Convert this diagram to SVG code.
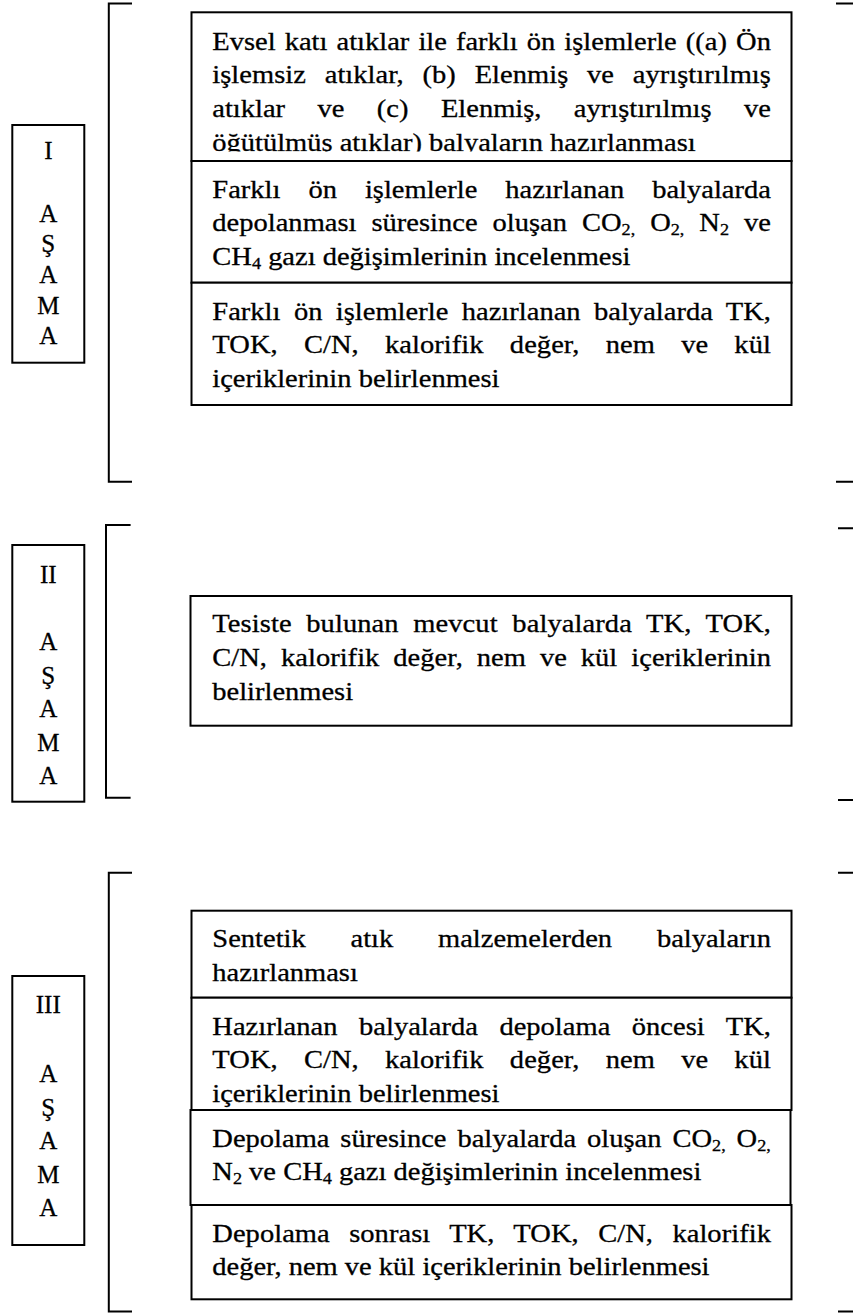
<svg xmlns="http://www.w3.org/2000/svg" width="853" height="1313" viewBox="0 0 853 1313">
<style>
.box{fill:#fff;stroke:#000;stroke-width:2}
.br{fill:none;stroke:#000;stroke-width:2}
.t{font-family:"Liberation Serif","Times New Roman",serif;font-size:25px;fill:#000;stroke:#000;stroke-width:0.3px}
.lbl{font-family:"Liberation Serif","Times New Roman",serif;font-size:25px;fill:#000;stroke:#000;stroke-width:0.3px;text-anchor:middle}
.sub{font-size:16px}
</style>
<defs>
<clipPath id="clip1"><rect x="-20" y="10" width="560" height="141.6"/></clipPath>
</defs>
<rect width="853" height="1313" fill="#fff"/>

<g id="brackets">
<path class="br" d="M132,3.5 H108.8 V481.7 H132"/>
<path class="br" d="M836,3.5 H853 M836,481.7 H853"/>
<path class="br" d="M130.6,525 H106 V797.7 H130.6"/>
<path class="br" d="M838,528.3 H853 M838,800 H853"/>
<path class="br" d="M132,872.7 H108.8 V1311.5 H132"/>
<path class="br" d="M838,872.7 H853 M838,1311.5 H853"/>
</g>

<!-- Stage I -->
<g id="stage1-label">
<rect class="box" x="12.3" y="125" width="72" height="237.7"/>
<text class="lbl" x="48.3" y="159">I</text>
<text class="lbl" x="48.3" y="221.5">A</text>
<text class="lbl" x="48.3" y="252.2">Ş</text>
<text class="lbl" x="48.3" y="283">A</text>
<text class="lbl" x="48.3" y="313.6">M</text>
<text class="lbl" x="48.3" y="344.3">A</text>
</g>
<g id="stage1-box1">
<rect class="box" x="191.5" y="12.3" width="600" height="148.7"/>
<g transform="translate(212.3 0) scale(1.14 1)">
<text class="t" x="0" y="50" textLength="490" style="word-spacing:1.7px">Evsel katı atıklar ile farklı ön işlemlerle ((a) Ön</text>
<text class="t" x="0" y="83.4" textLength="490" style="word-spacing:10.2px">işlemsiz atıklar, (b) Elenmiş ve ayrıştırılmış</text>
<text class="t" x="0" y="116.8" textLength="490" style="word-spacing:22.2px">atıklar ve (c) Elenmiş, ayrıştırılmış ve</text>
<text class="t" x="0" y="151" clip-path="url(#clip1)">öğütülmüş atıklar) balyaların hazırlanması</text>
</g>
</g>
<g id="stage1-box2">
<rect class="box" x="191.5" y="161" width="600" height="121.7"/>
<g transform="translate(212.3 0) scale(1.14 1)">
<text class="t" x="0" y="197.7" textLength="490" style="word-spacing:18.3px">Farklı ön işlemlerle hazırlanan balyalarda</text>
<text class="t" x="0" y="231.2" textLength="490" style="word-spacing:6.8px">depolanması süresince oluşan CO<tspan class="sub" dy="4">2,</tspan><tspan dy="-4"> O</tspan><tspan class="sub" dy="4">2,</tspan><tspan dy="-4"> N</tspan><tspan class="sub" dy="4">2</tspan><tspan dy="-4"> ve</tspan></text>
<text class="t" x="0" y="264.8">CH<tspan class="sub" dy="4">4</tspan><tspan dy="-4"> gazı değişimlerinin incelenmesi</tspan></text>
</g>
</g>
<g id="stage1-box3">
<rect class="box" x="191.5" y="282.7" width="600" height="122.3"/>
<g transform="translate(212.3 0) scale(1.14 1)">
<text class="t" x="0" y="320" textLength="490" style="word-spacing:5.5px">Farklı ön işlemlerle hazırlanan balyalarda TK,</text>
<text class="t" x="0" y="353.3" textLength="490" style="word-spacing:16.7px">TOK, C/N, kalorifik değer, nem ve kül</text>
<text class="t" x="0" y="386.7">içeriklerinin belirlenmesi</text>
</g>
</g>

<!-- Stage II -->
<g id="stage2-label">
<rect class="box" x="12.3" y="545" width="72" height="256.7"/>
<text class="lbl" x="48.3" y="582.7">II</text>
<text class="lbl" x="48.3" y="650">A</text>
<text class="lbl" x="48.3" y="683.5">Ş</text>
<text class="lbl" x="48.3" y="717">A</text>
<text class="lbl" x="48.3" y="750.5">M</text>
<text class="lbl" x="48.3" y="784">A</text>
</g>
<g id="stage2-box">
<rect class="box" x="190.5" y="596" width="601" height="129.7"/>
<g transform="translate(212.3 0) scale(1.14 1)">
<text class="t" x="0" y="632.5" textLength="490" style="word-spacing:6.5px">Tesiste bulunan mevcut balyalarda TK, TOK,</text>
<text class="t" x="0" y="666.5" textLength="490" style="word-spacing:6px">C/N, kalorifik değer, nem ve kül içeriklerinin</text>
<text class="t" x="0" y="700.5">belirlenmesi</text>
</g>
</g>

<!-- Stage III -->
<g id="stage3-label">
<rect class="box" x="12.3" y="976" width="72" height="269"/>
<text class="lbl" x="48.3" y="1013.3">III</text>
<text class="lbl" x="48.3" y="1081.7">A</text>
<text class="lbl" x="48.3" y="1115.5">Ş</text>
<text class="lbl" x="48.3" y="1149">A</text>
<text class="lbl" x="48.3" y="1182.5">M</text>
<text class="lbl" x="48.3" y="1216">A</text>
</g>
<g id="stage3-box1">
<rect class="box" x="191.5" y="910.7" width="600" height="87"/>
<g transform="translate(212.3 0) scale(1.14 1)">
<text class="t" x="0" y="947.3" textLength="490" style="word-spacing:33px">Sentetik atık malzemelerden balyaların</text>
<text class="t" x="0" y="980.7">hazırlanması</text>
</g>
</g>
<g id="stage3-box2">
<rect class="box" x="191.5" y="997.7" width="600" height="112.3"/>
<g transform="translate(212.3 0) scale(1.14 1)">
<text class="t" x="0" y="1035" textLength="490" style="word-spacing:12.6px">Hazırlanan balyalarda depolama öncesi TK,</text>
<text class="t" x="0" y="1068.3" textLength="490" style="word-spacing:16.7px">TOK, C/N, kalorifik değer, nem ve kül</text>
<text class="t" x="0" y="1101.7">içeriklerinin belirlenmesi</text>
</g>
</g>
<g id="stage3-box3">
<rect class="box" x="190.5" y="1110" width="600" height="95"/>
<g transform="translate(212.3 0) scale(1.14 1)">
<text class="t" x="0" y="1146.7" textLength="490" style="word-spacing:3.3px">Depolama süresince balyalarda oluşan CO<tspan class="sub" dy="4">2,</tspan><tspan dy="-4"> O</tspan><tspan class="sub" dy="4">2,</tspan></text>
<text class="t" x="0" y="1180">N<tspan class="sub" dy="4">2</tspan><tspan dy="-4"> ve CH</tspan><tspan class="sub" dy="4">4</tspan><tspan dy="-4"> gazı değişimlerinin incelenmesi</tspan></text>
</g>
</g>
<g id="stage3-box4">
<rect class="box" x="191.5" y="1205" width="600" height="94.3"/>
<g transform="translate(212.3 0) scale(1.14 1)">
<text class="t" x="0" y="1241.7" textLength="490" style="word-spacing:10.8px">Depolama sonrası TK, TOK, C/N, kalorifik</text>
<text class="t" x="0" y="1275">değer, nem ve kül içeriklerinin belirlenmesi</text>
</g>
</g>
</svg>
